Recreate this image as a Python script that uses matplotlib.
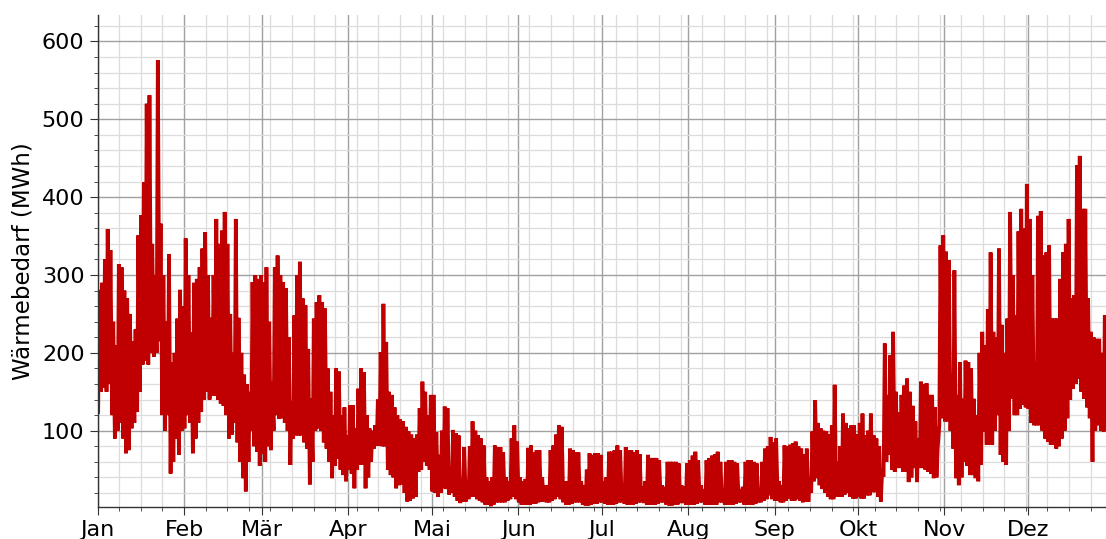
import numpy as np
import pandas as pd
import matplotlib
matplotlib.use("Agg")
import matplotlib.pyplot as plt
import matplotlib.dates as mdates
from matplotlib.ticker import AutoMinorLocator, FuncFormatter, MultipleLocator

# Month tick labels (German)
month_labels = ["Jan", "Feb", "Mär", "Apr", "Mai", "Jun",
                "Jul", "Aug", "Sep", "Okt", "Nov", "Dez"]

# Daily maximum heat demand (MWh)
daily_max = [
    # Jan
    281, 290, 320, 359, 332, 240, 210, 314, 310, 280, 270, 250, 215, 230, 351, 377,
    419, 520, 531, 340, 300, 576, 366, 300, 240, 327, 188, 200, 244, 281, 260,
    # Feb
    347, 300, 226, 290, 295, 310, 334, 355, 300, 245, 300, 372, 340, 357, 381, 340,
    250, 200, 372, 245, 200, 172, 160, 150, 291, 300, 295, 300,
    # Mär
    291, 310, 240, 163, 310, 325, 300, 291, 283, 220, 137, 248, 300, 317, 270, 261,
    205, 141, 244, 265, 274, 265, 257, 180, 150, 120, 180, 176, 120, 130, 94,
    # Apr
    133, 133, 103, 154, 180, 175, 120, 103, 100, 107, 140, 201, 263, 214, 150, 146,
    130, 120, 115, 112, 105, 99, 95, 90, 95, 129, 163, 150, 120, 146,
    # Mai
    146, 98, 69, 100, 131, 129, 52, 101, 97, 94, 39, 79, 35, 80, 112, 100,
    94, 90, 81, 40, 35, 40, 81, 79, 79, 72, 40, 35, 90, 107, 86,
    # Jun
    40, 35, 38, 78, 81, 72, 75, 75, 40, 30, 30, 75, 81, 95, 107, 105,
    35, 35, 77, 75, 72, 72, 35, 30, 50, 71, 69, 71, 71, 69,
    # Jul
    35, 40, 73, 73, 75, 81, 75, 30, 79, 75, 75, 72, 75, 70, 28, 35,
    69, 65, 65, 65, 62, 30, 28, 60, 60, 60, 60, 58, 30, 28, 58,
    # Aug
    62, 68, 73, 62, 30, 25, 62, 65, 68, 70, 73, 60, 25, 60, 62, 62,
    60, 58, 25, 28, 60, 62, 62, 60, 58, 25, 60, 77, 80, 92, 85,
    # Sep
    90, 35, 30, 81, 80, 82, 84, 86, 80, 77, 70, 77, 40, 99, 139, 110,
    103, 100, 99, 95, 107, 159, 60, 80, 122, 110, 103, 107, 107, 95,
    # Okt
    110, 122, 94, 100, 122, 94, 90, 80, 43, 212, 146, 197, 227, 150, 124, 146,
    158, 167, 150, 132, 112, 90, 163, 160, 161, 146, 146, 130, 77, 338, 351,
    # Nov
    330, 319, 172, 306, 146, 188, 141, 190, 188, 180, 141, 120, 200, 227, 210, 256,
    329, 227, 220, 334, 236, 200, 244, 381, 300, 248, 356, 385, 360, 417,
    # Dez
    372, 300, 188, 376, 382, 325, 329, 338, 244, 244, 244, 295, 329, 340, 372, 270,
    274, 441, 453, 385, 385, 270, 227, 220, 218, 218, 200, 248, 300, 250, 200,
]

# Daily minimum heat demand (MWh)
daily_min = [
    # Jan
    124, 150, 155, 150, 160, 120, 90, 100, 110, 90, 71, 75, 103, 110, 124, 150,
    185, 190, 185, 200, 195, 200, 215, 120, 100, 120, 45, 60, 90, 69, 100,
    # Feb
    103, 120, 110, 71, 90, 110, 124, 140, 150, 140, 145, 145, 140, 135, 132, 120,
    90, 95, 110, 85, 60, 39, 22, 60, 100, 80, 73, 55,
    # Mär
    70, 60, 80, 75, 100, 120, 115, 116, 110, 100, 56, 90, 94, 94, 94, 85,
    77, 31, 60, 100, 103, 100, 85, 77, 60, 39, 55, 64, 50, 43, 35,
    # Apr
    50, 45, 26, 50, 56, 56, 26, 40, 60, 77, 81, 81, 80, 80, 50, 43,
    40, 26, 30, 31, 20, 9, 10, 13, 15, 47, 50, 60, 55, 50,
    # Mai
    22, 20, 15, 20, 26, 25, 18, 20, 15, 10, 7, 9, 9, 12, 15, 15,
    12, 10, 8, 5, 5, 3, 5, 8, 8, 8, 8, 10, 12, 15, 12,
    # Jun
    8, 5, 5, 5, 5, 6, 6, 8, 9, 9, 8, 8, 10, 12, 15, 12,
    8, 5, 5, 6, 8, 8, 8, 5, 4, 4, 5, 6, 6, 8,
    # Jul
    8, 6, 5, 5, 5, 6, 8, 8, 6, 5, 5, 5, 6, 8, 8, 7,
    5, 5, 5, 5, 6, 8, 8, 5, 4, 4, 5, 5, 7, 7, 5,
    # Aug
    5, 5, 5, 6, 8, 8, 5, 5, 5, 5, 5, 8, 8, 5, 5, 5,
    5, 6, 8, 8, 5, 5, 5, 5, 6, 8, 8, 10, 12, 17, 12,
    # Sep
    10, 10, 8, 8, 10, 13, 10, 10, 12, 10, 8, 9, 9, 20, 35, 39,
    30, 25, 20, 15, 12, 12, 15, 15, 15, 18, 20, 15, 13, 13,
    # Okt
    15, 13, 13, 17, 17, 21, 21, 15, 9, 43, 60, 69, 50, 47, 52, 52,
    47, 47, 34, 40, 52, 34, 52, 52, 50, 47, 45, 39, 40, 107, 116,
    # Nov
    112, 112, 100, 77, 39, 30, 40, 60, 55, 43, 43, 39, 35, 56, 99, 82,
    82, 82, 100, 120, 69, 60, 56, 100, 141, 120, 120, 128, 133, 130,
    # Dez
    128, 110, 107, 107, 107, 100, 90, 86, 82, 82, 77, 80, 90, 100, 116, 140,
    154, 160, 167, 150, 141, 130, 116, 60, 100, 107, 100, 99, 100, 110, 100,
]

# ---- build a within-day time series (peak in the morning, low at night) ----
start = pd.Timestamp("2019-01-01")
n_days = len(daily_max)
times, values = [], []
for d in range(n_days):
    times.append(start + pd.Timedelta(hours=24 * d + 4))
    values.append(daily_min[d])
    times.append(start + pd.Timedelta(hours=24 * d + 14))
    values.append(daily_max[d])
times = pd.to_datetime(times)

W, H, DPI = 1106, 539, 100
fig = plt.figure(figsize=(W / DPI, H / DPI), dpi=DPI)
ax = fig.add_axes([97.7 / W, 32 / H, (1114.2 - 97.7) / W, (507 - 15) / H])

ax.plot(times, values, color="#c00000", linewidth=2.7, solid_joinstyle="miter")

ax.set_xlim(start, start + pd.Timedelta(hours=24 * n_days - 1))
ax.set_ylim(2, 634)

ax.xaxis.set_major_locator(mdates.MonthLocator())
ax.xaxis.set_major_formatter(
    FuncFormatter(lambda x, pos: month_labels[mdates.num2date(x).month - 1]))
ax.xaxis.set_minor_locator(AutoMinorLocator(4))
ax.yaxis.set_major_locator(MultipleLocator(100))
ax.yaxis.set_minor_locator(AutoMinorLocator(5))

ax.grid(which="major", color="#a0a0a0", linewidth=1.0)
ax.grid(which="minor", color="#dcdcdc", linewidth=0.9)
ax.set_axisbelow(True)

for s in ("top", "right"):
    ax.spines[s].set_visible(False)
for s in ("left", "bottom"):
    ax.spines[s].set_color("#333333")
    ax.spines[s].set_linewidth(1.0)

ax.tick_params(axis="both", which="major", labelsize=16, length=6, color="#333333")
ax.tick_params(axis="both", which="minor", length=3, color="#333333")
ax.set_ylabel("Wärmebedarf (MWh)", fontsize=16.5, labelpad=5)

fig.savefig("out.png", dpi=DPI)
